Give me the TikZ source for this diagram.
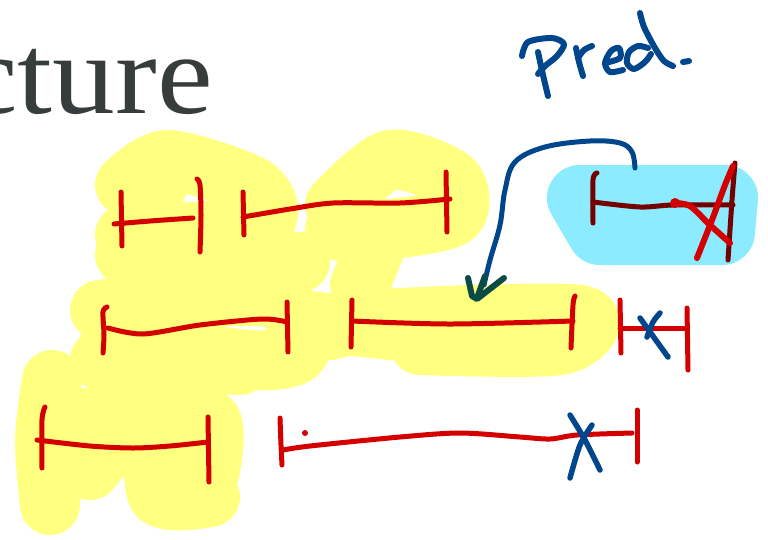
\documentclass[tikz,border=0pt]{standalone}
\usepackage{fontspec}
\setmainfont{Liberation Serif}
\definecolor{pen red}{HTML}{D40000}
\definecolor{pen darkred}{HTML}{740000}
\definecolor{pen blue}{HTML}{00468C}
\definecolor{pen green}{HTML}{0B4B45}
\definecolor{hl yellow}{HTML}{FFFF80}
\definecolor{hl cyan}{HTML}{8CEBFF}
\definecolor{title gray}{HTML}{373D3D}
\tikzset{
  redpen/.style={draw=pen red, line width=5pt, line cap=round, line join=round},
  darkredpen/.style={draw=pen darkred, line width=5pt, line cap=round, line join=round},
  bluepen/.style={draw=pen blue, line width=5.5pt, line cap=round, line join=round},
  greenpen/.style={draw=pen green, line width=6pt, line cap=round, line join=round},
  yellowhl/.style={draw=hl yellow, line width=60pt, line cap=round, line join=round},
  cyanhl/.style={draw=hl cyan, line width=66pt, line cap=round, line join=round},
}
\begin{document}
\begin{tikzpicture}[x=1pt,y=-1pt]
\useasboundingbox (0,0) rectangle (768,539);
\fill[white] (0,0) rectangle (768,539);

% title fragment
\node[anchor=base east, inner sep=0pt, text=title gray, xscale=1.1,
      font=\fontsize{114}{120}\selectfont] (title) at (213,113) {cture};

% yellow highlight
\draw[yellowhl] plot[smooth] coordinates {(125,185) (168,160) (255,188) (258,225) (125,235)};
\draw[yellowhl] (170,160) -- (150,200);
\draw[yellowhl] plot[smooth] coordinates {(335,205) (390,160) (452,180) (455,215) (400,228) (335,230)};
\draw[yellowhl] (380,235) -- (360,285);
\draw[yellowhl] (125,255) -- (300,262);
\draw[yellowhl] plot[smooth] coordinates {(100,310) (200,298) (280,300) (300,350) (250,360) (110,340)};
\draw[yellowhl] plot[smooth] coordinates {(330,330) (400,318) (580,315) (560,345) (420,345)};
\draw[yellowhl] (300,320) -- (390,330);
\draw[yellowhl] (100,360) -- (240,365);
\draw[yellowhl] plot[smooth] coordinates {(52,380) (45,440) (50,505)};
\draw[yellowhl] plot[smooth] coordinates {(155,420) (158,495) (210,497)};
\draw[yellowhl] plot[smooth] coordinates {(60,420) (150,415) (210,420) (210,470)};
\draw[yellowhl] (90,470) -- (130,420);

% cyan highlight
\draw[cyanhl] (580,198) -- (725,198) -- (722,232) -- (600,232) -- cycle;

% row 1
\draw[redpen] (121,192) -- (122,246);
\draw[redpen] plot[smooth] coordinates {(114,224) (150,221) (193,218)};
\draw[redpen] plot[smooth] coordinates {(197,179) (200,185) (201,215) (200,252)};
\draw[redpen] (243,192) -- (244,235);
\draw[redpen] plot[smooth] coordinates {(243,217) (290,209) (333,203) (400,203) (450,199)};
\draw[redpen] (446,172) -- (447,232);

% row 2
\draw[redpen] plot[smooth] coordinates {(107,307) (103,312) (104,335) (103,353)};
\draw[redpen] plot[smooth] coordinates {(108,328) (143,334) (200,325) (262,319) (287,322)};
\draw[redpen] (287,302) -- (288,352);
\draw[redpen] (352,300) -- (351,347);
\draw[redpen] plot[smooth] coordinates {(352,321) (450,324) (573,321)};
\draw[redpen] plot[smooth] coordinates {(575,296) (573,305) (571,348)};
\draw[redpen] (620,300) -- (621,353);
\draw[redpen] (620,328) -- (687,328);
\draw[redpen] (687,308) -- (688,370);

% row 3
\draw[redpen] plot[smooth] coordinates {(45,407) (42,420) (42,468)};
\draw[redpen] plot[smooth] coordinates {(37,440) (90,446) (133,448) (170,446) (208,442)};
\draw[redpen] (208,417) -- (209,482);
\draw[redpen] plot[smooth] coordinates {(280,418) (281,445) (282,465)};
\fill[pen red] (305,433) circle (3pt);
\draw[redpen] plot[smooth] coordinates {(283,450) (310,446) (400,437) (460,433) (520,437) (550,439) (577,435) (632,433)};
\draw[redpen] (637,410) -- (637,462);

% cyan-marked interval
\draw[darkredpen] plot[smooth] coordinates {(597,173) (593,180) (593,223)};
\draw[darkredpen] plot[smooth] coordinates {(593,202) (640,207) (673,205) (733,205)};
\draw[darkredpen] plot[smooth] coordinates {(735,163) (732,200) (728,260)};
\fill[pen red] (675,203) circle (5pt);
\draw[redpen, line width=6pt] plot[smooth] coordinates {(675,203) (690,206) (710,225) (730,243)};
\draw[redpen, line width=6pt] plot[smooth] coordinates {(697,258) (712,220) (725,185) (733,166)};

% blue crosses
\draw[bluepen] (640,318) -- (668,357);
\draw[bluepen] plot[smooth] coordinates {(660,313) (653,322) (647,337)};
\draw[bluepen] plot[smooth] coordinates {(570,415) (585,440) (600,470)};
\draw[bluepen] plot[smooth] coordinates {(592,425) (580,445) (570,478)};

% arrow from Pred interval
\draw[bluepen, line width=5pt] plot[smooth, tension=0.6] coordinates {(635,168) (632,152) (620,143) (590,141) (545,147) (515,162) (505,190) (500,225) (490,260) (484,285)};
\draw[greenpen] (468,278) -- (472,296) -- (477,299) -- (504,278);
\draw[greenpen] (485,276) -- (477,298);

% handwritten "Pred."
\draw[bluepen, line width=6pt] plot[smooth] coordinates {(522,56) (528,42) (552,38) (564,44) (557,56) (545,66) (538,74)};
\draw[bluepen, line width=6pt] plot[smooth] coordinates {(538,52) (543,75) (548,96)};
\draw[bluepen, line width=6pt] plot[smooth] coordinates {(576,48) (579,62) (583,76)};
\draw[bluepen, line width=6pt] plot[smooth] coordinates {(578,58) (584,50) (592,46)};
\draw[bluepen, line width=6pt] plot[smooth] coordinates {(605,63) (620,58) (619,48) (611,51) (605,63) (610,72) (623,70)};
\draw[bluepen, line width=6pt] plot[smooth] coordinates {(648,48) (638,46) (629,52) (627,63) (634,69) (645,62) (651,54)};
\draw[bluepen, line width=6pt] plot[smooth] coordinates {(640,13) (644,27) (655,48) (664,61) (673,66)};
\draw[bluepen, line width=6pt] (683,62) -- (689,61);
\end{tikzpicture}
\end{document}
